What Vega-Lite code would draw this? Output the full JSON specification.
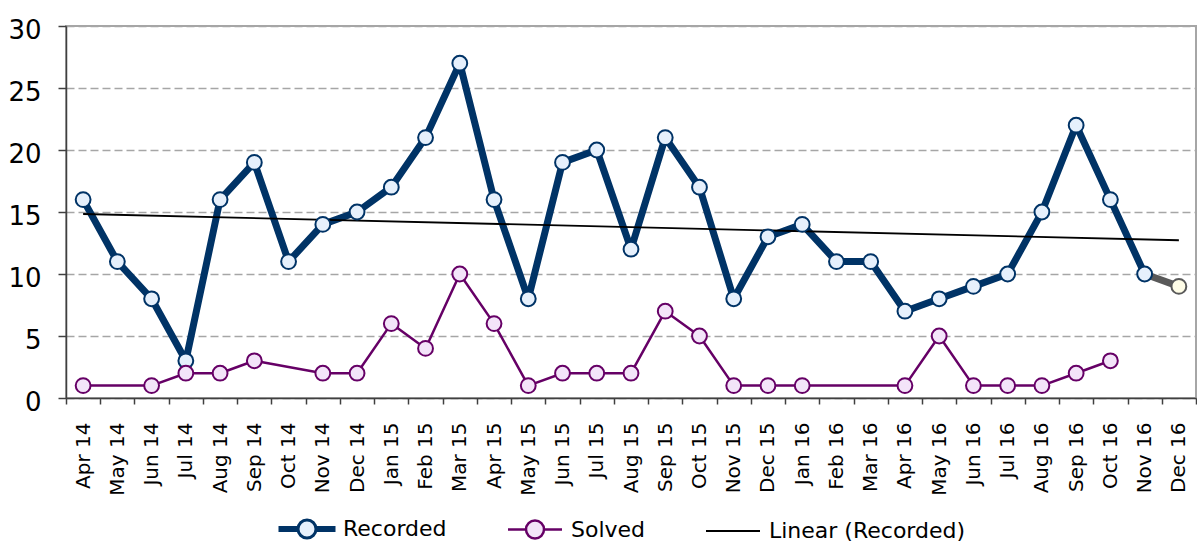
{
  "$schema": "https://vega.github.io/schema/vega-lite/v6.json",
  "width": 1130,
  "height": 372,
  "autosize": {"type": "none"},
  "padding": {"left": 66, "top": 26, "right": 1, "bottom": 149},
  "background": "white",
  "config": {
    "font": "DejaVu Sans",
    "view": {"stroke": "#a6a6a6", "strokeWidth": 2},
    "legend": {"layout": {"bottom": {"anchor": "middle"}}}
  },
  "datasets": {
    "rec": [
      {"month": "Apr 14", "series": "Recorded", "value": 16},
      {"month": "May 14", "series": "Recorded", "value": 11},
      {"month": "Jun 14", "series": "Recorded", "value": 8},
      {"month": "Jul 14", "series": "Recorded", "value": 3},
      {"month": "Aug 14", "series": "Recorded", "value": 16},
      {"month": "Sep 14", "series": "Recorded", "value": 19},
      {"month": "Oct 14", "series": "Recorded", "value": 11},
      {"month": "Nov 14", "series": "Recorded", "value": 14},
      {"month": "Dec 14", "series": "Recorded", "value": 15},
      {"month": "Jan 15", "series": "Recorded", "value": 17},
      {"month": "Feb 15", "series": "Recorded", "value": 21},
      {"month": "Mar 15", "series": "Recorded", "value": 27},
      {"month": "Apr 15", "series": "Recorded", "value": 16},
      {"month": "May 15", "series": "Recorded", "value": 8},
      {"month": "Jun 15", "series": "Recorded", "value": 19},
      {"month": "Jul 15", "series": "Recorded", "value": 20},
      {"month": "Aug 15", "series": "Recorded", "value": 12},
      {"month": "Sep 15", "series": "Recorded", "value": 21},
      {"month": "Oct 15", "series": "Recorded", "value": 17},
      {"month": "Nov 15", "series": "Recorded", "value": 8},
      {"month": "Dec 15", "series": "Recorded", "value": 13},
      {"month": "Jan 16", "series": "Recorded", "value": 14},
      {"month": "Feb 16", "series": "Recorded", "value": 11},
      {"month": "Mar 16", "series": "Recorded", "value": 11},
      {"month": "Apr 16", "series": "Recorded", "value": 7},
      {"month": "May 16", "series": "Recorded", "value": 8},
      {"month": "Jun 16", "series": "Recorded", "value": 9},
      {"month": "Jul 16", "series": "Recorded", "value": 10},
      {"month": "Aug 16", "series": "Recorded", "value": 15},
      {"month": "Sep 16", "series": "Recorded", "value": 22},
      {"month": "Oct 16", "series": "Recorded", "value": 16},
      {"month": "Nov 16", "series": "Recorded", "value": 10}
    ],
    "proj": [
      {"month": "Nov 16", "value": 10},
      {"month": "Dec 16", "value": 9}
    ],
    "projpt": [
      {"month": "Dec 16", "value": 9}
    ],
    "sol": [
      {"month": "Apr 14", "series": "Solved", "value": 1},
      {"month": "Jun 14", "series": "Solved", "value": 1},
      {"month": "Jul 14", "series": "Solved", "value": 2},
      {"month": "Aug 14", "series": "Solved", "value": 2},
      {"month": "Sep 14", "series": "Solved", "value": 3},
      {"month": "Nov 14", "series": "Solved", "value": 2},
      {"month": "Dec 14", "series": "Solved", "value": 2},
      {"month": "Jan 15", "series": "Solved", "value": 6},
      {"month": "Feb 15", "series": "Solved", "value": 4},
      {"month": "Mar 15", "series": "Solved", "value": 10},
      {"month": "Apr 15", "series": "Solved", "value": 6},
      {"month": "May 15", "series": "Solved", "value": 1},
      {"month": "Jun 15", "series": "Solved", "value": 2},
      {"month": "Jul 15", "series": "Solved", "value": 2},
      {"month": "Aug 15", "series": "Solved", "value": 2},
      {"month": "Sep 15", "series": "Solved", "value": 7},
      {"month": "Oct 15", "series": "Solved", "value": 5},
      {"month": "Nov 15", "series": "Solved", "value": 1},
      {"month": "Dec 15", "series": "Solved", "value": 1},
      {"month": "Jan 16", "series": "Solved", "value": 1},
      {"month": "Apr 16", "series": "Solved", "value": 1},
      {"month": "May 16", "series": "Solved", "value": 5},
      {"month": "Jun 16", "series": "Solved", "value": 1},
      {"month": "Jul 16", "series": "Solved", "value": 1},
      {"month": "Aug 16", "series": "Solved", "value": 1},
      {"month": "Sep 16", "series": "Solved", "value": 2},
      {"month": "Oct 16", "series": "Solved", "value": 3}
    ],
    "trend": [
      {"month": "Apr 14", "series": "Linear (Recorded)", "value": 14.84},
      {"month": "Dec 16", "series": "Linear (Recorded)", "value": 12.72}
    ]
  },
  "encoding": {
    "x": {
      "field": "month",
      "type": "ordinal",
      "sort": null,
      "bandPosition": 0.5,
      "scale": {
        "type": "band",
        "paddingInner": 0,
        "paddingOuter": 0,
        "domain": ["Apr 14","May 14","Jun 14","Jul 14","Aug 14","Sep 14","Oct 14","Nov 14","Dec 14","Jan 15","Feb 15","Mar 15","Apr 15","May 15","Jun 15","Jul 15","Aug 15","Sep 15","Oct 15","Nov 15","Dec 15","Jan 16","Feb 16","Mar 16","Apr 16","May 16","Jun 16","Jul 16","Aug 16","Sep 16","Oct 16","Nov 16","Dec 16"]
      },
      "axis": {
        "title": null,
        "labelAngle": -90,
        "labelFontSize": 20,
        "labelColor": "#000000",
        "labelPadding": 18,
        "tickBand": "extent",
        "tickSize": 6,
        "tickColor": "#404040",
        "tickWidth": 1.5,
        "domainColor": "#404040",
        "domainWidth": 1.5,
        "grid": false
      }
    },
    "y": {
      "field": "value",
      "type": "quantitative",
      "scale": {"domain": [0, 30], "nice": false},
      "axis": {
        "title": null,
        "values": [0, 5, 10, 15, 20, 25, 30],
        "labelFontSize": 26,
        "labelColor": "#000000",
        "labelPadding": 17,
        "labelOffset": 4,
        "tickSize": 8,
        "tickColor": "#404040",
        "tickWidth": 1.5,
        "domainColor": "#404040",
        "domainWidth": 1.5,
        "grid": true,
        "gridColor": "#a6a6a6",
        "gridDash": [8, 4],
        "gridWidth": 1.5
      }
    }
  },
  "layer": [
    {
      "data": {"name": "rec"},
      "mark": {"type": "line", "strokeWidth": 7, "strokeJoin": "round"},
      "encoding": {
        "color": {
          "field": "series",
          "type": "nominal",
          "scale": {
            "domain": ["Recorded", "Solved", "Linear (Recorded)"],
            "range": ["#003366", "#660066", "#000000"]
          },
          "legend": {
            "title": null,
            "orient": "bottom",
            "direction": "horizontal",
            "labelFontSize": 22,
            "labelColor": "#000000",
            "labelLimit": 400,
            "labelOffset": 25,
            "columnPadding": 56,
            "symbolSize": 400,
            "offset": 22,
            "encode": {
              "symbols": {
                "update": {
                  "shape": {"signal": "datum.value === 'Recorded' ? 'M-2.7,-0.15H-0.9V0.15H-2.7Z M0.9,-0.15H2.7V0.15H0.9Z M-0.9,0A0.9,0.9 0 1,1 0.9,0A0.9,0.9 0 1,1 -0.9,0Z' : datum.value === 'Solved' ? 'M-2.7,0H-0.9M0.9,0H2.7M-0.9,0A0.9,0.9 0 1,1 0.9,0A0.9,0.9 0 1,1 -0.9,0Z' : 'M-2.7,0H2.7'"},
                  "fill": {"signal": "datum.value === 'Recorded' ? '#e6f0fc' : datum.value === 'Solved' ? '#f3e4f9' : 'transparent'"},
                  "strokeWidth": {"signal": "datum.value === 'Recorded' ? 3 : datum.value === 'Solved' ? 2.5 : 1.8"}
                }
              }
            }
          }
        }
      }
    },
    {
      "data": {"name": "proj"},
      "mark": {"type": "line", "strokeWidth": 7, "strokeJoin": "round", "color": "#595959"},
      "encoding": {}
    },
    {
      "data": {"name": "sol"},
      "mark": {"type": "line", "strokeWidth": 2.5, "strokeJoin": "round"},
      "encoding": {"color": {"field": "series", "type": "nominal"}}
    },
    {
      "data": {"name": "trend"},
      "mark": {"type": "line", "strokeWidth": 1.8},
      "encoding": {"color": {"field": "series", "type": "nominal"}}
    },
    {
      "data": {"name": "rec"},
      "mark": {"type": "point", "shape": "circle", "filled": true, "size": 220, "fill": "#e6f0fc", "stroke": "#003366", "strokeWidth": 2, "opacity": 1},
      "encoding": {}
    },
    {
      "data": {"name": "projpt"},
      "mark": {"type": "point", "shape": "circle", "filled": true, "size": 220, "fill": "#fffde7", "stroke": "#595959", "strokeWidth": 2, "opacity": 1},
      "encoding": {}
    },
    {
      "data": {"name": "sol"},
      "mark": {"type": "point", "shape": "circle", "filled": true, "size": 220, "fill": "#f3e4f9", "stroke": "#660066", "strokeWidth": 2, "opacity": 1},
      "encoding": {}
    }
  ]
}
